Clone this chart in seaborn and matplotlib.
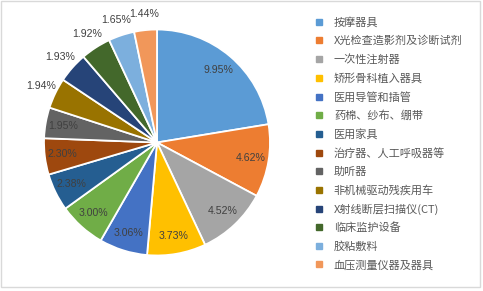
import matplotlib
matplotlib.use("Agg")
import matplotlib.pyplot as plt
import seaborn as sns
import numpy as np
from matplotlib.lines import Line2D
from matplotlib.patches import Rectangle

categories = ["按摩器具", "X光检查造影剂及诊断试剂", "一次性注射器", "矫形骨科植入器具",
              "医用导管和插管", "药棉、纱布、绷带", "医用家具", "治疗器、人工呼吸器等",
              "助听器", "非机械驱动残疾用车", "X射线断层扫描仪(CT)", "临床监护设备",
              "胶粘敷料", "血压测量仪器及器具"]
values = [9.95, 4.62, 4.52, 3.73, 3.06, 3.00, 2.38, 2.30, 1.95, 1.94, 1.93, 1.92, 1.65, 1.44]
labels = ["9.95%", "4.62%", "4.52%", "3.73%", "3.06%", "3.00%", "2.38%", "2.30%",
          "1.95%", "1.94%", "1.93%", "1.92%", "1.65%", "1.44%"]
colors = ["#5B9BD5", "#ED7D31", "#A5A5A5", "#FFC000", "#4472C4", "#70AD47", "#255E91",
          "#9E480E", "#636363", "#997300", "#264478", "#43682B", "#7CAFDD", "#F1975A"]
outside = [False] * 9 + [True] * 5

sns.set_theme(style="white")
plt.rcParams['font.family'] = ['Noto Sans CJK SC', 'DejaVu Sans']

W, H = 483, 291
fig = plt.figure(figsize=(W / 100, H / 100), dpi=100)
fig.patch.set_facecolor("white")

cx, cy, R = 157, 142.5, 113
ax = fig.add_axes([(cx - R) / W, (H - cy - R) / H, 2 * R / W, 2 * R / H])
wedges, _ = ax.pie(values, colors=colors, startangle=90, counterclock=False,
                   wedgeprops=dict(edgecolor="white", linewidth=1.3))
ax.set_xlim(-1, 1)
ax.set_ylim(-1, 1)
ax.set_aspect("equal")
ax.axis("off")

for w, lab, out in zip(wedges, labels, outside):
    ang = np.deg2rad((w.theta1 + w.theta2) / 2)
    r = 1.14 if out else 0.84
    ax.text(r * np.cos(ang), r * np.sin(ang), lab, ha="center", va="center",
            fontsize=7.6, color="#404040", family=["Liberation Sans", "DejaVu Sans"])

handles = [Line2D([], [], marker="s", linestyle="none", markersize=4.2,
                  markerfacecolor=c, markeredgecolor=c) for c in colors]
leg = fig.legend(handles, categories, loc="upper left",
                 bbox_to_anchor=(315 / W, 1 - 17 / H), frameon=False,
                 fontsize=8, labelcolor="#595959", handlelength=0.8,
                 handletextpad=0.9, labelspacing=0.71, borderpad=0, borderaxespad=0)

fig.patches.append(Rectangle((1 / W, 4 / H), 479 / W, 286 / H, transform=fig.transFigure,
                             fill=False, edgecolor="#D9D9D9", linewidth=1))

fig.savefig("out.png", dpi=100)
